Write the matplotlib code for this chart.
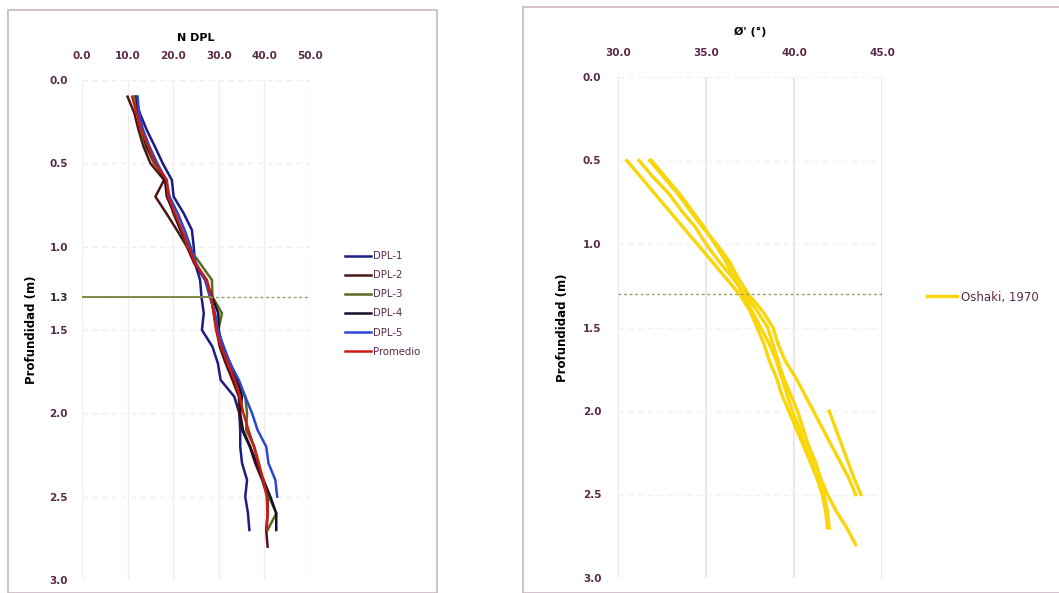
# Perfiles DPL: N DPL y angulo de friccion (Oshaki, 1970) frente a profundidad

import matplotlib.pyplot as plt
from matplotlib.patches import Rectangle

# DATOS - profundidad cada 0.1 m
prof_27 = [0.1, 0.2, 0.3, 0.4, 0.5, 0.6, 0.7, 0.8, 0.9, 1.0, 1.1, 1.2, 1.3, 1.4,
           1.5, 1.6, 1.7, 1.8, 1.9, 2.0, 2.1, 2.2, 2.3, 2.4, 2.5, 2.6, 2.7]
prof_28 = prof_27 + [2.8]
prof_25 = prof_27[:25]

dpl_1 = [11.6, 12.7, 14.2, 16.0, 17.7, 19.7, 20.1, 22.3, 24.1, 24.5, 24.8, 25.9, 26.2, 26.7,
         26.3, 28.6, 29.8, 30.4, 33.4, 34.5, 34.7, 34.7, 35.1, 36.2, 35.8, 36.4, 36.7]
dpl_2 = [10.0, 11.5, 12.4, 13.5, 15.0, 18.0, 16.1, 18.5, 20.8, 23.0, 24.6, 27.0, 28.3, 28.9,
         29.5, 30.2, 31.5, 33.0, 34.4, 34.5, 35.1, 36.8, 38.0, 39.5, 40.7, 40.7, 40.4, 40.7]
dpl_3 = [11.5, 12.3, 12.9, 14.0, 15.8, 18.4, 19.0, 20.0, 21.6, 23.2, 25.9, 28.5, 28.6, 30.7,
         29.9, 30.8, 32.3, 33.8, 35.8, 36.2, 36.0, 37.8, 38.8, 39.6, 41.0, 42.6, 40.7]
dpl_4 = [12.0, 12.4, 13.2, 14.2, 16.2, 18.2, 18.6, 20.2, 21.6, 23.4, 24.9, 27.2, 28.5, 29.9,
         30.0, 30.7, 32.5, 34.0, 35.1, 34.7, 35.3, 36.9, 38.3, 39.8, 41.3, 42.6, 42.6]
dpl_5 = [12.2, 12.5, 13.4, 14.8, 16.5, 18.5, 19.2, 21.0, 22.5, 23.8, 25.0, 27.0, 28.0, 29.2,
         29.8, 31.1, 32.5, 34.4, 35.8, 37.3, 38.5, 40.4, 40.9, 42.4, 42.8]
promedio = [11.0, 12.0, 13.0, 14.5, 16.0, 18.6, 18.9, 20.4, 21.9, 23.3, 24.8, 27.4, 28.3, 28.9,
            29.4, 30.5, 32.0, 33.5, 34.6, 35.4, 36.5, 37.7, 38.7, 39.8, 40.5, 40.7, 40.5]

# angulo de friccion (grados), desde 0.5 m
prof_phi_27 = prof_27[4:]
prof_phi_28 = prof_28[4:]
prof_phi_25 = prof_27[4:25]
prof_phi_tramo = [2.0, 2.1, 2.2, 2.3, 2.4, 2.5]

phi_a = [30.5, 31.3, 32.1, 32.9, 33.7, 34.5, 35.3, 36.1, 36.9, 37.5, 37.9, 38.3, 38.6, 39.0,
         39.3, 39.7, 40.1, 40.5, 40.9, 41.3, 41.7, 41.9, 42.0]
phi_b = [31.2, 32.0, 32.9, 33.6, 34.4, 35.0, 35.7, 36.5, 37.2, 37.9, 38.5, 38.8, 39.1, 39.4,
         39.8, 40.2, 40.5, 40.8, 41.2, 41.5, 41.9, 42.4, 43.0, 43.5]
phi_c = [31.8, 32.6, 33.4, 34.1, 34.8, 35.6, 36.3, 36.8, 37.4, 38.2, 38.8, 39.1, 39.5, 40.1,
         40.6, 41.1, 41.6, 42.1, 42.6, 43.1, 43.5]
phi_d = [31.9, 32.7, 33.5, 34.2, 34.9, 35.5, 36.1, 36.6, 37.1, 37.6, 38.1, 38.6, 39.0, 39.3,
         39.6, 39.9, 40.3, 40.6, 41.0, 41.3, 41.6, 41.8, 41.9]
phi_tramo = [42.0, 42.35, 42.7, 43.05, 43.4, 43.8]

x_ticks_n = [0, 10, 20, 30, 40, 50]
y_ticks_n = [0.0, 0.5, 1.0, 1.3, 1.5, 2.0, 2.5, 3.0]
x_ticks_phi = [30, 35, 40, 45]
y_ticks_phi = [0.0, 0.5, 1.0, 1.5, 2.0, 2.5, 3.0]

TXT = "#5a2a48"
GRID = "#efeded"

fig = plt.figure(figsize=(10.59, 5.93), dpi=100)

# marcos de cada grafico
fig.patches.append(Rectangle((8 / 1059, 0), 429 / 1059, 1 - 10 / 593, transform=fig.transFigure,
                             fill=False, edgecolor="#c9b7c2", linewidth=1.2))
fig.patches.append(Rectangle((523 / 1059, 0), 540 / 1059, 1 - 7 / 593, transform=fig.transFigure,
                             fill=False, edgecolor="#c9b7c2", linewidth=1.2))

# --- grafico N DPL ---
ax1 = fig.add_axes([82 / 1059, 1 - 580 / 593, 228 / 1059, 500 / 593])
series = [
    (dpl_1, prof_27, "#1c1c86", "DPL-1"),
    (dpl_2, prof_28, "#4a1616", "DPL-2"),
    (dpl_3, prof_27, "#566b22", "DPL-3"),
    (dpl_4, prof_27, "#1c0f2c", "DPL-4"),
    (dpl_5, prof_25, "#2a47d2", "DPL-5"),
    (promedio, prof_27, "#d01a10", "Promedio"),
]
for valores, prof, color, nombre in series:
    ax1.plot(valores, prof, color=color, linewidth=1.8, label=nombre,
             solid_joinstyle="round")

ax1.plot([0, 28], [1.3, 1.3], color="#7f8a45", linewidth=1.4)
ax1.plot([28, 50], [1.3, 1.3], color="#9aa070", linewidth=1.0, linestyle=(0, (2, 2)))

ax1.set_xlim(0, 50)
ax1.set_ylim(3.0, 0.0)
ax1.xaxis.tick_top()
ax1.set_xticks(x_ticks_n)
ax1.set_xticklabels([f"{v:.1f}" for v in x_ticks_n])
ax1.set_yticks(y_ticks_n)
ax1.set_yticklabels([f"{v:.1f}" for v in y_ticks_n])
ax1.tick_params(length=0, labelsize=7.5, labelcolor=TXT, pad=14)
ax1.tick_params(axis="y", pad=10)
for lbl in ax1.get_xticklabels() + ax1.get_yticklabels():
    lbl.set_fontweight("bold")
ax1.get_yticklabels()[3].set_color("#2a2a2a")
ax1.grid(True, axis="x", color=GRID, linewidth=1)
ax1.grid(True, axis="y", color=GRID, linewidth=1, linestyle=(0, (4, 3)))
for s in ax1.spines.values():
    s.set_visible(False)
ax1.set_title("N DPL", fontsize=8, fontweight="bold", pad=28)
ax1.set_ylabel("Profundidad (m)", fontsize=8.5, fontweight="bold", labelpad=8)

fig.legend(handles=ax1.get_lines()[:6], loc="upper left",
           bbox_to_anchor=(336 / 1059, 1 - 242 / 593), frameon=False,
           fontsize=7.3, labelcolor=TXT, handlelength=2.6, handletextpad=0.1,
           labelspacing=0.9)

# --- grafico angulo de friccion ---
ax2 = fig.add_axes([618 / 1059, 1 - 578 / 593, 264 / 1059, 501 / 593])
AMARILLO = "#f8d60a"
ax2.plot(phi_a, prof_phi_27, color=AMARILLO, linewidth=2.4, label="Oshaki, 1970")
ax2.plot(phi_b, prof_phi_28, color=AMARILLO, linewidth=2.4)
ax2.plot(phi_c, prof_phi_25, color=AMARILLO, linewidth=2.4)
ax2.plot(phi_d, prof_phi_27, color=AMARILLO, linewidth=2.4)
ax2.plot(phi_tramo, prof_phi_tramo, color=AMARILLO, linewidth=2.4)
ax2.plot([30, 45.4], [1.3, 1.3], color="#9aa060", linewidth=1.0, linestyle=(0, (2, 2)))

ax2.set_xlim(30, 45)
ax2.set_ylim(3.0, 0.0)
ax2.xaxis.tick_top()
ax2.set_xticks(x_ticks_phi)
ax2.set_xticklabels([f"{v:.1f}" for v in x_ticks_phi])
ax2.set_yticks(y_ticks_phi)
ax2.set_yticklabels([f"{v:.1f}" for v in y_ticks_phi])
ax2.tick_params(length=0, labelsize=7.5, labelcolor=TXT, pad=14)
ax2.tick_params(axis="y", pad=12)
for lbl in ax2.get_xticklabels() + ax2.get_yticklabels():
    lbl.set_fontweight("bold")
ax2.grid(True, axis="x", color="#f0dde8", linewidth=1.2)
ax2.grid(True, axis="y", color="#f3f0f1", linewidth=1, linestyle=(0, (4, 3)))
for s in ax2.spines.values():
    s.set_visible(False)
ax2.set_title("Ø' (°)", fontsize=8, fontweight="bold", pad=30)
ax2.set_ylabel("Profundidad (m)", fontsize=8.5, fontweight="bold", labelpad=10)

fig.legend(handles=[ax2.get_lines()[0]], loc="center left",
           bbox_to_anchor=(916 / 1059, 1 - 297 / 593), frameon=False,
           fontsize=8.5, labelcolor=TXT, handlelength=2.6, handletextpad=0.3)

fig.savefig("out.png", dpi=100)
plt.close(fig)
